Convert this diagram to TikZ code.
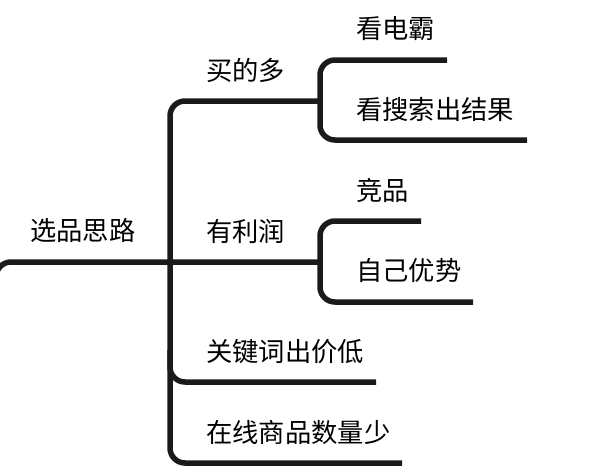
\documentclass[tikz,border=0pt]{standalone}
\usepackage{fontspec}
\setmainfont{Noto Sans CJK SC}
\definecolor{lineclr}{HTML}{1A1A1A}
\tikzset{
  conn/.style={draw=lineclr, line width=5.5pt, rounded corners=15pt},
  lbl/.style={anchor=west, inner sep=0pt, font=\fontsize{26.3}{26.3}\selectfont, text=black}
}
\begin{document}
\begin{tikzpicture}[x=1pt,y=-1pt]
\useasboundingbox (0,0) rectangle (599,475);
% coordinates
\coordinate (rootin) at (-4,320);
\coordinate (b1) at (320,101);
\coordinate (b2) at (320,262);
\coordinate (b3end) at (376,382);
\coordinate (b4end) at (402,463);
\coordinate (s1end) at (447,60);
\coordinate (s2end) at (527,140);
\coordinate (s3end) at (421,221);
\coordinate (s4end) at (473,302);
% connectors
\draw[conn] (rootin) |- (b2);
\draw[conn] (b1) -- (170,101) -- (170,463) -- (b4end);
\draw[conn] (170,350) |- (b3end);
\draw[conn] (s1end) -- (320,60) -- (320,140) -- (s2end);
\draw[conn] (s3end) -- (320,221) -- (320,302) -- (s4end);
% labels
\node[lbl] (root) at (30,230) {选品思路};
\node[lbl] (n1) at (206,70) {买的多};
\node[lbl] (n2) at (206,231) {有利润};
\node[lbl] (n3) at (206,352) {关键词出价低};
\node[lbl] (n4) at (206,432) {在线商品数量少};
\node[lbl] (m1) at (356,29) {看电霸};
\node[lbl] (m2) at (356,110) {看搜索出结果};
\node[lbl] (m3) at (356,190) {竞品};
\node[lbl] (m4) at (356,270) {自己优势};
\end{tikzpicture}
\end{document}
